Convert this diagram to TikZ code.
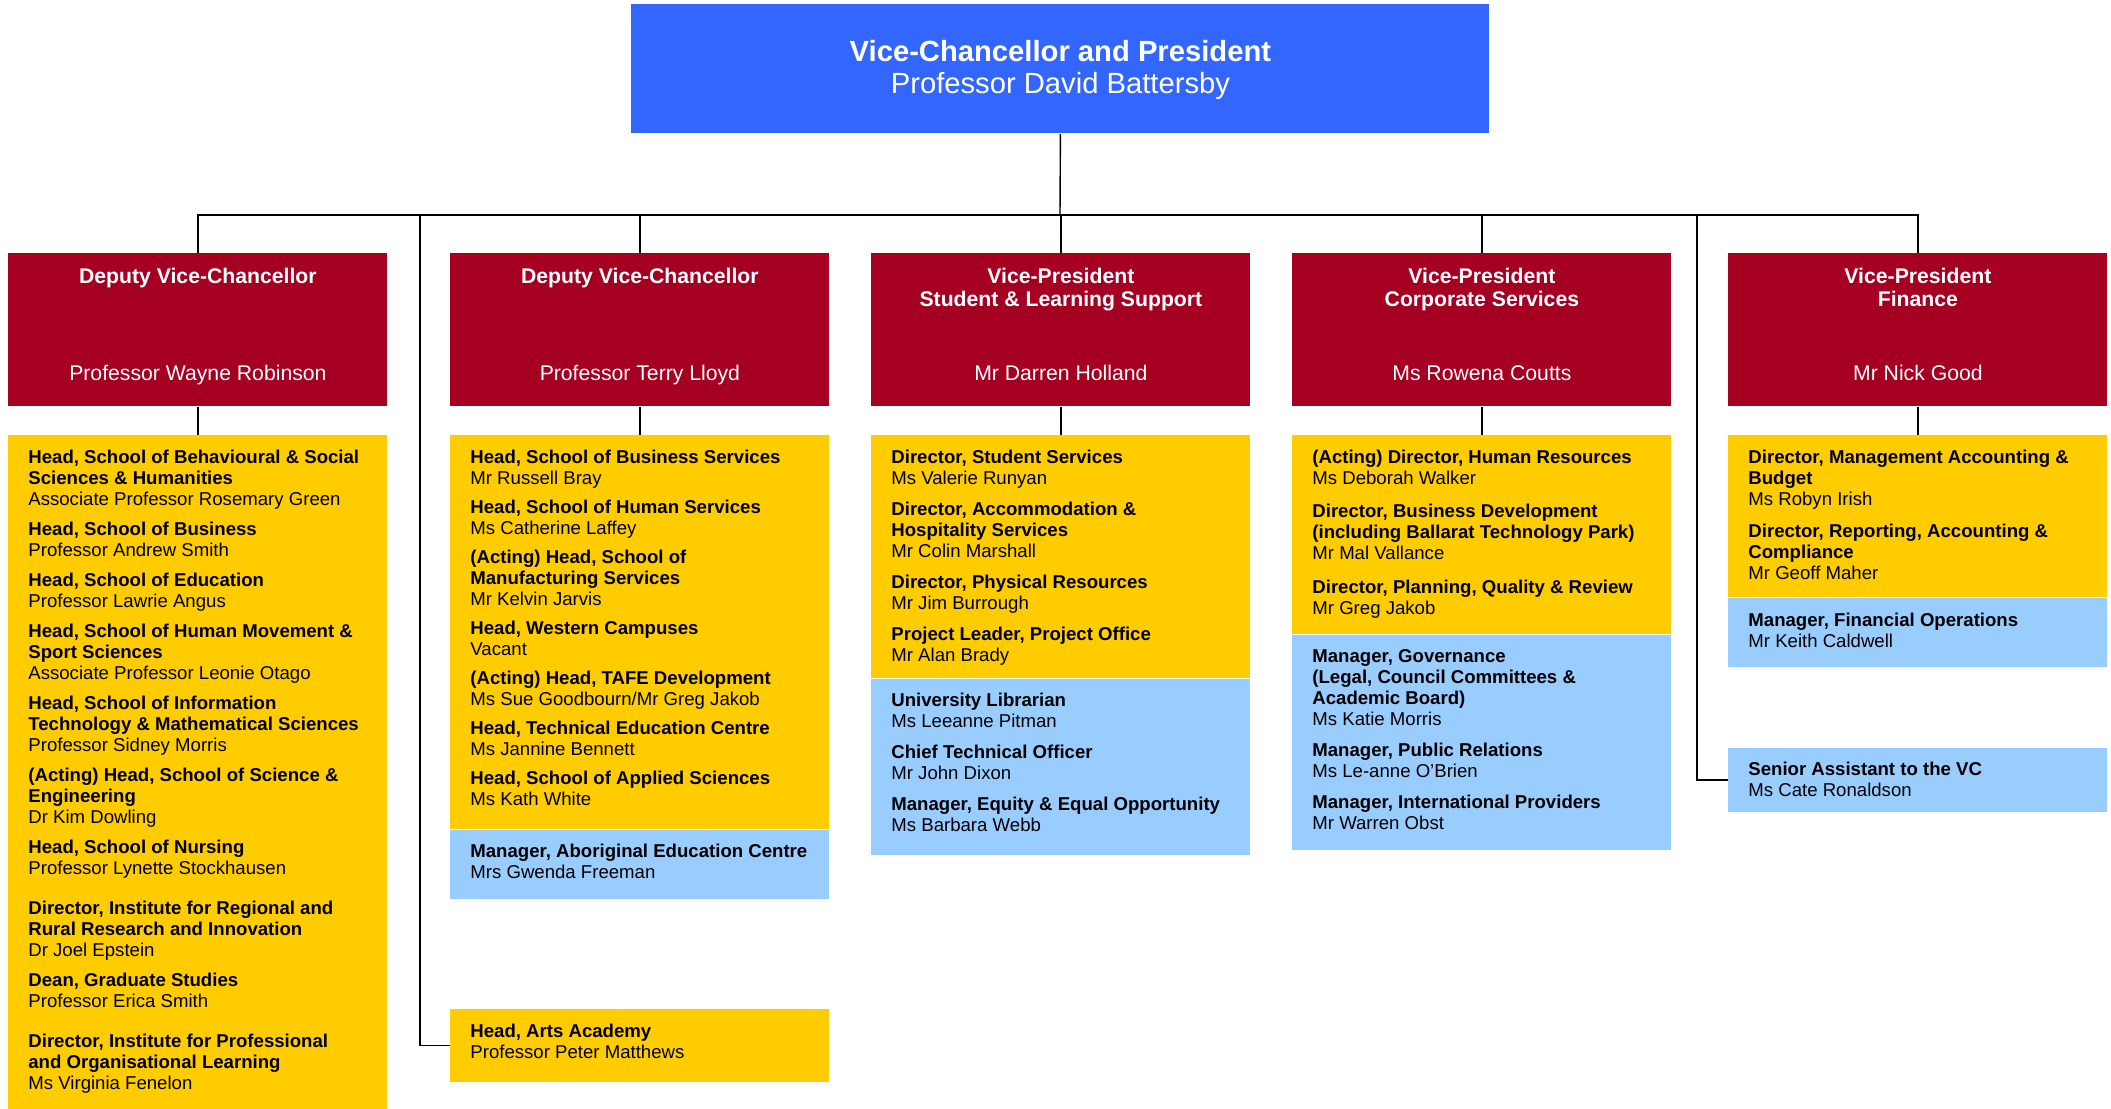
\documentclass[tikz,border=0pt]{standalone}
\usepackage{fontspec}
\setmainfont{Liberation Sans}
\usetikzlibrary{positioning}

\definecolor{vcblue}{HTML}{3366FF}
\definecolor{vpred}{HTML}{A50021}
\definecolor{unitgold}{HTML}{FFCC00}
\definecolor{unitblue}{HTML}{99CCFF}

% One post: bold title, then the name
\newcommand\post[2]{\textbf{#1}\\#2}
% Content of a yellow or blue box, #1 is its height
\newcommand\unitlist[2]{\parbox[c][#1][t]{189.5pt}{\raggedright\leftskip=10pt\rule{0pt}{14pt}#2}}
% Content of a red box
\newcommand\vptitle[2]{\parbox[c][76.35pt][t]{189.5pt}{\centering\rule{0pt}{14.85pt}\textbf{#1}\par\vfill#2\rule[-12.85pt]{0pt}{12.85pt}}}

\tikzset{
  vc/.style={fill=vcblue, text=white, anchor=north west, inner sep=0pt,
    font=\fontsize{14.6pt}{16.15pt}\selectfont},
  vp/.style={fill=vpred, text=white, anchor=north west, inner sep=0pt,
    font=\fontsize{10.6pt}{11.65pt}\selectfont},
  unit/.style={fill=#1, anchor=north west, inner sep=0pt,
    font=\fontsize{9.3pt}{10.5pt}\selectfont},
  link/.style={draw=black, line width=0.7pt}
}

\begin{document}
\begin{tikzpicture}[x=0.5pt,y=-0.5pt]
      \useasboundingbox (0,0) rectangle (2111,1109);

      % The Vice-Chancellor
      \node[vc] (vc) at (631,4) {\parbox[c][64.5pt][t]{429pt}{\centering\rule{0pt}{28.5pt}%
        \textbf{Vice-Chancellor and President}\\Professor David Battersby}};

      % The five portfolios
      \node[vp] (vp1) at (8,253) {\vptitle{Deputy Vice-Chancellor}{Professor Wayne Robinson}};
      \node[vp] (vp2) at (450,253) {\vptitle{Deputy Vice-Chancellor}{Professor Terry Lloyd}};
      \node[vp] (vp3) at (871,253) {\vptitle{Vice-President\\Student \& Learning Support}{Mr Darren Holland}};
      \node[vp] (vp4) at (1292,253) {\vptitle{Vice-President\\Corporate Services}{Ms Rowena Coutts}};
      \node[vp] (vp5) at (1728,253) {\vptitle{Vice-President\\Finance}{Mr Nick Good}};

      % Units below each portfolio
      \node[unit=unitgold] (u1) at (8,435) {\unitlist{337pt}{%
        \post{Head, School of Behavioural \& Social\\Sciences \& Humanities}{Associate Professor Rosemary Green}\\[4.5pt]
        \post{Head, School of Business}{Professor Andrew Smith}\\[4.5pt]
        \post{Head, School of Education}{Professor Lawrie Angus}\\[4.5pt]
        \post{Head, School of Human Movement \&\\Sport Sciences}{Associate Professor Leonie Otago}\\[4.5pt]
        \post{Head, School of Information\\Technology \& Mathematical Sciences}{Professor Sidney Morris}\\[4.5pt]
        \post{(Acting) Head, School of Science \&\\Engineering}{Dr Kim Dowling}\\[4.5pt]
        \post{Head, School of Nursing}{Professor Lynette Stockhausen}\\[9.5pt]
        \post{Director, Institute for Regional and\\Rural Research and Innovation}{Dr Joel Epstein}\\[4.5pt]
        \post{Dean, Graduate Studies}{Professor Erica Smith}\\[9.5pt]
        \post{Director, Institute for Professional\\and Organisational Learning}{Ms Virginia Fenelon}}};

      \node[unit=unitgold] (u2) at (450,435) {\unitlist{196.8pt}{%
        \post{Head, School of Business Services}{Mr Russell Bray}\\[4pt]
        \post{Head, School of Human Services}{Ms Catherine Laffey}\\[4pt]
        \post{(Acting) Head, School of\\Manufacturing Services}{Mr Kelvin Jarvis}\\[4pt]
        \post{Head, Western Campuses}{Vacant}\\[4pt]
        \post{(Acting) Head, TAFE Development}{Ms Sue Goodbourn/Mr Greg Jakob}\\[4pt]
        \post{Head, Technical Education Centre}{Ms Jannine Bennett}\\[4pt]
        \post{Head, School of Applied Sciences}{Ms Kath White}}};
      \node[unit=unitblue] (u2b) at (u2.south west) {\unitlist{34.5pt}{%
        \post{Manager, Aboriginal Education Centre}{Mrs Gwenda Freeman}}};

      \node[unit=unitgold] (u3) at (871,435) {\unitlist{121.35pt}{%
        \post{Director, Student Services}{Ms Valerie Runyan}\\[5pt]
        \post{Director, Accommodation \&\\Hospitality Services}{Mr Colin Marshall}\\[5pt]
        \post{Director, Physical Resources}{Mr Jim Burrough}\\[5pt]
        \post{Project Leader, Project Office}{Mr Alan Brady}}};
      \node[unit=unitblue] (u3b) at (u3.south west) {\unitlist{87.8pt}{%
        \post{University Librarian}{Ms Leeanne Pitman}\\[5pt]
        \post{Chief Technical Officer}{Mr John Dixon}\\[5pt]
        \post{Manager, Equity \& Equal Opportunity}{Ms Barbara Webb}}};

      \node[unit=unitgold] (u4) at (1292,435) {\unitlist{99.35pt}{%
        \post{(Acting) Director, Human Resources}{Ms Deborah Walker}\\[6.25pt]
        \post{Director, Business Development\\(including Ballarat Technology Park)}{Mr Mal Vallance}\\[6.25pt]
        \post{Director, Planning, Quality \& Review}{Mr Greg Jakob}}};
      \node[unit=unitblue] (u4b) at (u4.south west) {\unitlist{107.5pt}{%
        \post{Manager, Governance\\(Legal, Council Committees \&\\Academic Board)}{Ms Katie Morris}\\[5pt]
        \post{Manager, Public Relations}{Ms Le-anne O'Brien}\\[5pt]
        \post{Manager, International Providers}{Mr Warren Obst}}};

      \node[unit=unitgold] (u5) at (1728,435) {\unitlist{81pt}{%
        \post{Director, Management Accounting \&\\Budget}{Ms Robyn Irish}\\[5.6pt]
        \post{Director, Reporting, Accounting \&\\Compliance}{Mr Geoff Maher}}};
      \node[unit=unitblue] (u5b) at (u5.south west) {\unitlist{34.35pt}{%
        \post{Manager, Financial Operations}{Mr Keith Caldwell}}};

      % Boxes hanging from the side lines
      \node[unit=unitgold] (arts) at (450,1008.7) {\unitlist{36.5pt}{%
        \post{Head, Arts Academy}{Professor Peter Matthews}}};
      \node[unit=unitblue] (snr) at (1728,747.3) {\unitlist{32.2pt}{%
        \post{Senior Assistant to the VC}{Ms Cate Ronaldson}}};

      % Points on the horizontal line
      \coordinate (bus) at (1060,215);
      \coordinate (busl) at (420,215);
      \coordinate (busr) at (1697,215);

      % Draw the connectors
      \draw[link] (vc.south) -- (bus);
      \draw[link] (vp1.north) |- (bus) -| (vp5.north);
      \foreach \n in {2,3,4} {
        \draw[link] (vp\n.north) -- (vp\n.north |- bus);
      }
      \foreach \n in {1,...,5} {
        \draw[link] (vp\n.south) -- (u\n.north);
      }
      \draw[link] (busl) |- (arts.west);
      \draw[link] (busr) |- (snr.west);
\end{tikzpicture}
\end{document}
